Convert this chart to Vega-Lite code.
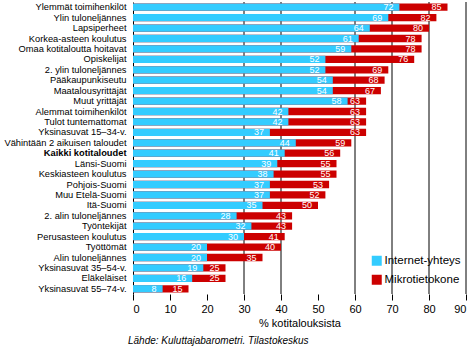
{
  "$schema": "https://vega.github.io/schema/vega-lite/v6.json",
  "autosize": "none",
  "padding": {"left": 133, "top": 2, "right": 8, "bottom": 58},
  "width": 333,
  "height": 292,
  "background": "white",
  "config": {"view": {"stroke": null}, "font": "Liberation Sans"},
  "title": {"text": "Lähde: Kuluttajabarometri. Tilastokeskus", "orient": "bottom", "anchor": "start", "frame": "group", "fontSize": 10, "fontWeight": "normal", "fontStyle": "italic", "font": "Liberation Sans", "color": "black", "offset": 8, "dx": -5},
  "datasets": {
    "main": [
      {"g": "Ylemmät toimihenkilöt", "internet": 72, "pc": 85},
      {"g": "Ylin tuloneljännes", "internet": 69, "pc": 82},
      {"g": "Lapsiperheet", "internet": 64, "pc": 80},
      {"g": "Korkea-asteen koulutus", "internet": 61, "pc": 78},
      {"g": "Omaa kotitaloutta hoitavat", "internet": 59, "pc": 78},
      {"g": "Opiskelijat", "internet": 52, "pc": 76},
      {"g": "2. ylin tuloneljännes", "internet": 52, "pc": 69},
      {"g": "Pääkaupunkiseutu", "internet": 54, "pc": 68},
      {"g": "Maatalousyrittäjät", "internet": 54, "pc": 67},
      {"g": "Muut yrittäjät", "internet": 58, "pc": 63},
      {"g": "Alemmat toimihenkilöt", "internet": 42, "pc": 63},
      {"g": "Tulot tuntemattomat", "internet": 42, "pc": 63},
      {"g": "Yksinasuvat 15–34-v.", "internet": 37, "pc": 63},
      {"g": "Vähintään 2 aikuisen taloudet", "internet": 44, "pc": 59},
      {"g": "Kaikki kotitaloudet", "internet": 41, "pc": 56},
      {"g": "Länsi-Suomi", "internet": 39, "pc": 55},
      {"g": "Keskiasteen koulutus", "internet": 38, "pc": 55},
      {"g": "Pohjois-Suomi", "internet": 37, "pc": 53},
      {"g": "Muu Etelä-Suomi", "internet": 37, "pc": 52},
      {"g": "Itä-Suomi", "internet": 35, "pc": 50},
      {"g": "2. alin tuloneljännes", "internet": 28, "pc": 43},
      {"g": "Työntekijät", "internet": 32, "pc": 43},
      {"g": "Perusasteen koulutus", "internet": 30, "pc": 41},
      {"g": "Työttömät", "internet": 20, "pc": 40},
      {"g": "Alin tuloneljännes", "internet": 20, "pc": 35},
      {"g": "Yksinasuvat 35–54-v.", "internet": 19, "pc": 25},
      {"g": "Eläkeläiset", "internet": 16, "pc": 25},
      {"g": "Yksinasuvat 55–74-v.", "internet": 8, "pc": 15}
    ],
    "grid": [{"v": 30}, {"v": 40}, {"v": 60}, {"v": 70}, {"v": 80}, {"v": 90}]
  },
  "layer": [
    {
      "data": {"name": "grid"},
      "mark": {"type": "rule", "color": "black", "strokeWidth": 1},
      "encoding": {
        "x": {"field": "v", "type": "quantitative", "scale": {"domain": [0, 90]}}
      }
    },
    {
      "data": {"name": "main"},
      "layer": [
        {
          "mark": {"type": "bar"},
          "encoding": {
            "y": {"field": "g", "type": "nominal", "sort": null, "scale": {"paddingInner": 0.3, "paddingOuter": 0.15}},
            "x": {"field": "pc", "type": "quantitative"},
            "color": {"datum": "Mikrotietokone"}
          }
        },
        {
          "mark": {"type": "bar"},
          "encoding": {
            "y": {"field": "g", "type": "nominal", "sort": null},
            "x": {"field": "internet", "type": "quantitative"},
            "color": {"datum": "Internet-yhteys"}
          }
        },
        {
          "mark": {"type": "text", "align": "right", "dx": -6, "color": "white", "fontSize": 9, "baseline": "middle"},
          "encoding": {
            "y": {"field": "g", "type": "nominal", "sort": null},
            "x": {"field": "pc", "type": "quantitative"},
            "text": {"field": "pc", "type": "quantitative"}
          }
        },
        {
          "mark": {"type": "text", "align": "right", "dx": -6, "color": "white", "fontSize": 9, "baseline": "middle"},
          "encoding": {
            "y": {"field": "g", "type": "nominal", "sort": null},
            "x": {"field": "internet", "type": "quantitative"},
            "text": {"field": "internet", "type": "quantitative"}
          }
        }
      ]
    }
  ],
  "resolve": {"scale": {"x": "shared", "y": "shared"}},
  "encoding": {
    "x": {
      "type": "quantitative",
      "scale": {"domain": [0, 90], "nice": false},
      "axis": {
        "title": "% kotitalouksista",
        "values": [0, 10, 20, 30, 40, 50, 60, 70, 80, 90],
        "grid": false, "domain": false,
        "tickColor": "black", "tickSize": 6,
        "labelFontSize": 11, "labelColor": "black", "labelPadding": 3,
        "titleFontSize": 11, "titleFontWeight": "normal", "titleColor": "black", "titlePadding": 3
      }
    },
    "y": {
      "type": "nominal",
      "axis": {
        "title": null, "ticks": false, "grid": false,
        "domainColor": "black",
        "labelFontSize": 9.3, "labelColor": "black", "labelPadding": 7, "labelLimit": 200,
        "labelFontWeight": {"condition": {"test": "datum.value === 'Kaikki kotitaloudet'", "value": "bold"}, "value": "normal"}
      }
    },
    "color": {
      "type": "nominal",
      "scale": {"domain": ["Internet-yhteys", "Mikrotietokone"], "range": ["#33CCFF", "#CC0000"]},
      "legend": {
        "title": null, "orient": "none", "legendX": 238, "legendY": 253,
        "symbolType": "square", "symbolSize": 100, "symbolStrokeWidth": 0, "symbolOpacity": 1,
        "labelFontSize": 11.5, "labelColor": "black", "labelOffset": 2, "rowPadding": 6
      }
    }
  }
}
